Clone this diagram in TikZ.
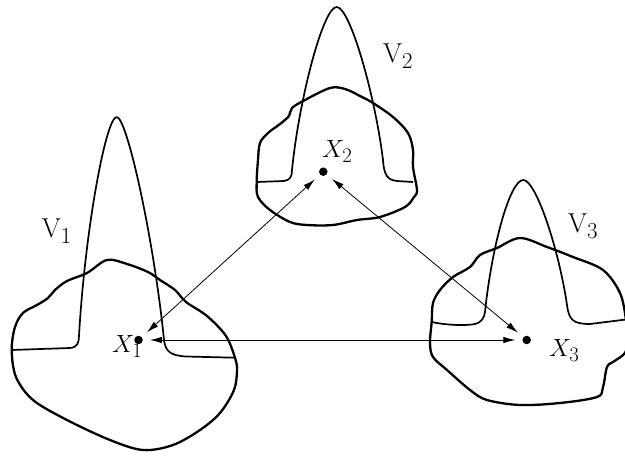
\documentclass[tikz,border=0pt]{standalone}
\usetikzlibrary{arrows.meta}
\begin{document}
\begin{tikzpicture}[x=1pt,y=-1pt,
  region/.style={line width=2.3pt,line join=round},
  peak/.style={line width=1.7pt,line join=round},
  dot/.style={circle,fill,inner sep=0pt,minimum size=8.5pt},
  lbl/.style={anchor=base west,inner sep=0pt,font=\Huge},
  vlbl/.style={lbl,scale=1.1,transform shape},
  link/.style={{Latex[length=12pt,width=6.5pt]}-{Latex[length=12pt,width=6.5pt]},line width=0.8pt,shorten <=7pt,shorten >=7pt}]

\clip
(0,0)
rectangle
(625,457);

\draw[region]
plot[smooth cycle,tension=0.55]
coordinates {(11.7,350) (15,327) (23,313) (37,305) (48,298) (55,290) (67,281) (87,273) (107,260) (127,264) (148,272) (160,280) (175,290) (186,302) (207,316) (226,336) (235,358) (237,370) (234,390) (220,413) (200,430) (173,445) (143,450) (110,440) (67,420) (33,400) (16,377)};

\draw[peak]
(11.7,350)
-- (70,348)
.. controls (77,347.5) and (79,343) .. (79,336)
.. controls (85,230) and (106,117) .. (116.7,117)
.. controls (127,117) and (154,240) .. (164,340)
.. controls (165.5,352) and (171,355.5) .. (186,356.5)
-- (235,357.7);

\draw[region]
plot[smooth cycle,tension=0.55]
coordinates {(256.7,181.7) (258,160) (260,143) (268,133) (280,124) (289,116) (292,108) (305,100) (330,88) (345,89) (360,96) (373,103) (393,117) (408,133) (413,150) (413,167) (417,190) (414,197) (405,207) (380,217) (357,220) (333,225) (307,225) (290,222) (270,210) (258,197)};

\draw[peak]
(256.7,182)
-- (284,181)
.. controls (290,180) and (292,177) .. (292,170)
.. controls (299,100) and (323,7) .. (336.7,7)
.. controls (350,7) and (375,95) .. (383,160)
.. controls (384,176) and (388,180) .. (397,181)
-- (413,182);

\draw[region]
plot[smooth cycle,tension=0.55]
coordinates {(431.7,321.7) (433,303) (440,290) (453,277) (470,267) (480,255) (497,248) (520,238) (547,247) (573,257) (603,270) (620,293) (626,320) (627,340) (625,353) (613,362) (607,367) (603,387) (597,397) (560,403) (520,405) (487,400) (470,390) (447,370) (433,357) (430,343)};

\draw[peak]
(431.7,322)
.. controls (445,325) and (465,326) .. (475,324)
.. controls (482,322) and (484,318) .. (485,312)
.. controls (492,245) and (510,180) .. (523.3,180)
.. controls (536,180) and (559,250) .. (567,305)
.. controls (569,320) and (573,324) .. (590,324)
-- (630,319);

\node[dot]
(x1)
at (138.5,340)
{};

\node[dot]
(x2)
at (323.3,171.7)
{};

\node[dot]
(x3)
at (526.7,340)
{};

\node[lbl]
(x1lbl)
at (112,353)
{$X_1$};

\node[lbl]
(x2lbl)
at (322,158)
{$X_2$};

\node[lbl]
(x3lbl)
at (549,357)
{$X_3$};

\node[vlbl]
(v1lbl)
at (41.7,238)
{$\mathrm{V}_1$};

\node[vlbl]
(v2lbl)
at (383,63)
{$\mathrm{V}_2$};

\node[vlbl]
(v3lbl)
at (568,233)
{$\mathrm{V}_3$};

\draw[link]
(x1)
--
(x2);

\draw[link]
(x1)
--
(x3);

\draw[link]
(x2)
--
(x3);

\end{tikzpicture}
\end{document}
